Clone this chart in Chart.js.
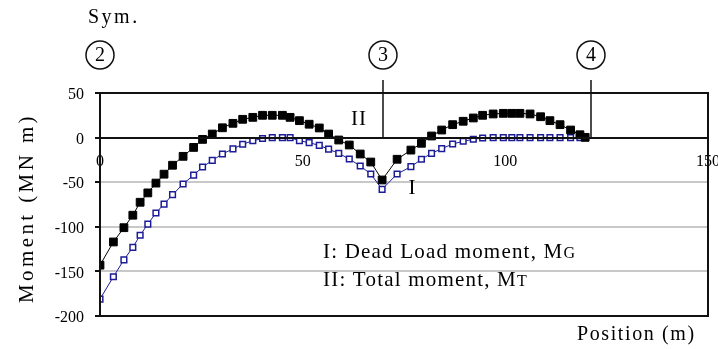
<!DOCTYPE html>
<html>
<head>
<meta charset="utf-8">
<script src="https://cdn.jsdelivr.net/npm/chart.js@4.4.0/dist/chart.umd.min.js"></script>
<style>
  html, body { margin: 0; padding: 0; background: #fff; }
  #wrap { width: 718px; height: 349px; }
</style>
</head>
<body>
<div id="wrap"><canvas id="chart" width="718" height="349"></canvas></div>
<script>
// Position along the girder (m)
const positions = [0, 3.3, 5.9, 8.1, 9.9, 11.8, 13.8, 15.8, 17.9, 20.5, 23.1, 25.3, 27.7, 30.2, 32.8,
  35.2, 37.7, 40.1, 42.5, 45.0, 46.9, 49.2, 51.6, 54.1, 56.4, 58.9, 61.5, 64.2, 66.8, 69.6,
  73.3, 76.7, 79.3, 81.8, 84.3, 87.0, 89.6, 92.1, 94.4, 97.0, 99.5, 101.6, 103.6, 106.1,
  108.7, 111.0, 113.5, 116.1, 118.4, 119.7];

// II: Total moment, MT (MN m)
const totalMoment = [-143, -117, -101, -87, -72.5, -62, -51, -41, -31, -21, -11, -2, 4, 11, 16,
  20.5, 22.7, 25, 25, 25, 22.7, 19, 15, 10.8, 4, -2.7, -8.3, -18.4, -27.4, -47.5,
  -24.3, -14, -6.4, 1.8, 8.5, 14.5, 18.3, 22, 25, 26.5, 27.2, 27.2, 27.2, 26.5,
  23.4, 19, 14.5, 8.5, 3.2, 0.3];

// I: Dead load moment, MG (MN m)
const deadLoadMoment = [-181, -156, -137, -123, -109.5, -97, -84.5, -74.5, -64, -52, -42, -33, -25.5, -18.4, -12.6,
  -7.5, -3.5, -1, 0, 0, 0, -3.5, -5.7, -8.7, -13, -17.6, -24, -31.8, -40.8, -58,
  -40.8, -32.6, -24.3, -17.6, -12.4, -7.2, -4.1, -1.9, -0.4, 0, 0, 0, 0, 0,
  0, 0, 0, 0, 0, 0];

const xTicks = [0, 50, 100, 150];
const yTicks = [50, 0, -50, -100, -150, -200];

// support markers: label, position (m)
const supports = [["2", 0], ["3", 69.8], ["4", 121.1]];

const serif = "'Liberation Serif', 'Times New Roman', serif";
const navy = "#1c1c96";

function toPoints(ys) {
  return ys.map((v, i) => ({x: positions[i], y: v}));
}

function txt(ctx, s, x, y, size, align, spacing) {
  ctx.font = size + "px " + serif;
  ctx.textAlign = align || "left";
  ctx.letterSpacing = (spacing || 0) + "px";
  ctx.fillText(s, x, y);
  return ctx.measureText(s).width;
}

// --- Decorations: frame, support lines, circled numbers, labels ---
const decor = {
  id: "decor",
  afterDraw(chart) {
    let ctx = chart.ctx;
    let a = chart.chartArea;
    let xs = chart.scales.x, ys = chart.scales.y;
    ctx.save();
    ctx.strokeStyle = "#111";
    ctx.lineWidth = 2;
    ctx.strokeRect(a.left, a.top, a.right - a.left, a.bottom - a.top);

    ctx.fillStyle = "#000";
    ctx.textBaseline = "middle";
    ctx.lineWidth = 1.5;

    supports.forEach(([n, pos], i) => {
      let px = Math.round(xs.getPixelForValue(pos));
      if (i > 0) {
        ctx.beginPath();
        ctx.moveTo(px, a.top - 13);
        ctx.lineTo(px, ys.getPixelForValue(0));
        ctx.stroke();
      }
      let cy = a.top - 38;
      ctx.beginPath();
      ctx.arc(px, cy, 14, 0, Math.PI * 2);
      ctx.stroke();
      txt(ctx, n, px, cy + 1, 20, "center");
    });

    txt(ctx, "Sym.", 88, 18, 20, "left", 2.5);
    txt(ctx, "II", 359, 119, 21, "center", 1);
    txt(ctx, "I", 412, 188, 21, "center");

    // legend text
    let x = 323;
    x += txt(ctx, "I: Dead Load moment, M", x, 252, 21, "left", 1.2);
    txt(ctx, "G", x, 254, 16, "left");
    x = 323;
    x += txt(ctx, "II: Total moment, M", x, 280, 21, "left", 1.2);
    txt(ctx, "T", x, 282, 16, "left");

    // axis titles
    txt(ctx, "Position (m)", 577, 335, 20, "left", 1.6);
    ctx.translate(27, 208);
    ctx.rotate(-Math.PI / 2);
    txt(ctx, "Moment (MN m)", 0, 0, 21, "center", 3.4);
    ctx.restore();
  }
};

const edgeOrZero = v => v === 0 || v === 50 || v === -200;

new Chart(document.getElementById("chart").getContext("2d"), {
  type: "line",
  data: {
    datasets: [
      {
        label: "II: Total moment, MT",
        data: toPoints(totalMoment),
        borderColor: "#000",
        borderWidth: 1,
        pointStyle: "rect",
        pointRadius: 5.5,
        pointBackgroundColor: "#000",
        pointBorderColor: "#000",
        pointBorderWidth: 1,
        tension: 0,
        fill: false
      },
      {
        label: "I: Dead Load moment, MG",
        data: toPoints(deadLoadMoment),
        borderColor: navy,
        borderWidth: 1,
        pointStyle: "rect",
        pointRadius: 4,
        pointBackgroundColor: "#fff",
        pointBorderColor: navy,
        pointBorderWidth: 1.5,
        tension: 0,
        fill: false
      }
    ]
  },
  options: {
    responsive: false,
    animation: false,
    devicePixelRatio: 1,
    layout: { padding: { left: 0, top: 93, right: 10, bottom: 33 } },
    plugins: { legend: { display: false }, tooltip: { enabled: false } },
    scales: {
      x: {
        type: "linear",
        min: 0,
        max: 150,
        position: { y: 0 },
        afterBuildTicks(s) { s.ticks = xTicks.map(v => ({value: v})); },
        afterFit(s) { s.paddingLeft = 0; s.paddingRight = 0; },
        ticks: { padding: 15, color: "#000", font: { family: serif, size: 16 } },
        grid: { display: false, drawTicks: false },
        border: { color: "#111", width: 2, z: 1 }
      },
      y: {
        min: -200,
        max: 50,
        afterBuildTicks(s) { s.ticks = yTicks.map(v => ({value: v})); },
        afterFit(s) { s.width = 100; },
        ticks: { padding: 11, labelOffset: 2, color: "#000", font: { family: serif, size: 16 } },
        grid: {
          color: c => (c.tick && edgeOrZero(c.tick.value) ? "#111" : "#c8c8c8"),
          lineWidth: 2,
          tickColor: "#111",
          tickWidth: 2,
          tickLength: 5
        },
        border: { color: "#111", width: 2 }
      }
    }
  },
  plugins: [decor]
});
</script>
</body>
</html>
